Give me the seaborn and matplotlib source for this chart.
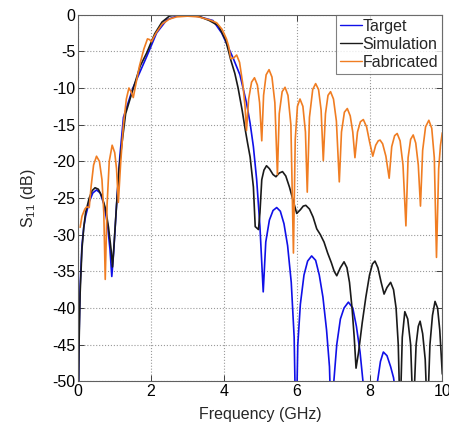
import matplotlib
matplotlib.use("Agg")
import matplotlib.pyplot as plt
import seaborn as sns
import pandas as pd

# ---- data ----
target_f = [0, 0.02, 0.05, 0.1, 0.15, 0.2, 0.3, 0.4, 0.5, 0.6, 0.7, 0.8, 0.87, 0.92, 0.97,
            1.05, 1.14, 1.24, 1.5, 1.88, 2.15, 2.43, 2.7, 3.0, 3.34, 3.7, 3.94, 4.07, 4.26,
            4.44, 4.62, 4.72, 4.81, 4.9, 4.99, 5.08, 5.15, 5.25, 5.35, 5.45, 5.55, 5.65,
            5.75, 5.85, 5.93, 5.98, 6.03, 6.1, 6.2, 6.3, 6.41, 6.52, 6.62, 6.72, 6.82, 6.9,
            6.96, 7.02, 7.1, 7.2, 7.3, 7.42, 7.54, 7.64, 7.74, 7.82, 7.88, 8.0, 8.15, 8.22,
            8.3, 8.38, 8.48, 8.58, 8.66, 8.73, 8.8]
target_db = [-55, -44, -37, -31.5, -29, -27.5, -25.5, -24.3, -23.9, -24.3, -25.8, -28.5, -32,
             -35.7, -32.5, -26, -19.4, -14, -10, -5.7, -2.5, -0.7, -0.2, 0, -0.3, -0.8, -2.5,
             -3.9, -6, -8.2, -12, -14.8, -18, -22.5, -28.9, -37.8, -31, -28, -26.7, -26.3,
             -26.8, -28.5, -31.5, -36.5, -44, -58, -45, -39.5, -35.5, -33.6, -32.9, -33.5,
             -35.5, -38.5, -43, -48, -58, -50, -45, -41.5, -40, -39.2, -40, -42.5, -46, -50,
             -58, -60, -58, -50, -47.3, -46, -46.5, -48, -49.5, -52, -60]

sim_f = [0, 0.02, 0.05, 0.1, 0.15, 0.2, 0.3, 0.38, 0.46, 0.55, 0.65, 0.75, 0.83, 0.9, 0.94,
         0.98, 1.05, 1.12, 1.2, 1.3, 1.5, 1.7, 1.88, 2.1, 2.3, 2.5, 2.7, 3.0, 3.3, 3.6, 3.85,
         3.95, 4.05, 4.19, 4.3, 4.39, 4.5, 4.58, 4.65, 4.72, 4.81, 4.86, 4.95, 4.99, 5.04,
         5.1, 5.17, 5.25, 5.35, 5.43, 5.52, 5.61, 5.7, 5.8, 5.9, 6.0, 6.1, 6.18, 6.25, 6.35,
         6.45, 6.55, 6.65, 6.75, 6.85, 6.95, 7.03, 7.1, 7.2, 7.3, 7.38, 7.45, 7.52, 7.58,
         7.63, 7.7, 7.8, 7.9, 8.0, 8.08, 8.15, 8.23, 8.32, 8.4, 8.48, 8.58, 8.66, 8.73, 8.79,
         8.84, 8.9, 8.97, 9.05, 9.13, 9.2, 9.28, 9.34, 9.39, 9.46, 9.53, 9.59, 9.66, 9.73,
         9.8, 9.87, 9.93, 10.0]
sim_db = [-55, -45, -38, -32, -29, -27, -25, -24, -23.6, -23.8, -24.8, -26.5, -29, -32, -34.4,
          -31.5, -26, -21, -17.5, -13.5, -10.2, -7, -5.2, -2.6, -1, -0.2, 0, 0, -0.2, -0.8,
          -1.5, -2.5, -3.5, -6.2, -8, -10, -13, -15.5, -17.5, -19.4, -23.5, -28.9, -29.3,
          -27, -22.5, -21.2, -20.6, -21, -21.8, -22.1, -21.6, -21.4, -22, -23.5, -25.3,
          -27.1, -26.6, -26.1, -26, -26.5, -27.6, -29.2, -30, -31, -32.5, -33.8, -35, -35.6,
          -34.5, -33.7, -34.5, -36.5, -40, -44, -48.2, -46, -42, -38.5, -35.5, -34, -33.6,
          -34.5, -36.5, -38.1, -37.2, -36.5, -37.5, -40, -45, -55, -44, -40.5, -41.5, -45,
          -55, -45, -42.5, -41.8, -43.5, -47, -55, -45, -41, -39.1, -40, -43, -49]

fab_f = [0.05, 0.1, 0.18, 0.23, 0.3, 0.35, 0.42, 0.5, 0.58, 0.65, 0.7, 0.74, 0.79, 0.85, 0.93,
         1.0, 1.05, 1.1, 1.16, 1.24, 1.32, 1.39, 1.45, 1.51, 1.58, 1.68, 1.8, 1.9, 1.96, 2.01,
         2.08, 2.15, 2.3, 2.5, 2.7, 3.0, 3.3, 3.6, 3.8, 3.95, 4.07, 4.13, 4.19, 4.27, 4.35,
         4.43, 4.52, 4.58, 4.62, 4.68, 4.76, 4.84, 4.92, 4.98, 5.04, 5.09, 5.16, 5.24, 5.32,
         5.4, 5.47, 5.52, 5.6, 5.68, 5.76, 5.84, 5.91, 5.96, 6.02, 6.09, 6.17, 6.24, 6.29,
         6.35, 6.44, 6.52, 6.6, 6.67, 6.73, 6.79, 6.86, 6.93, 7.01, 7.09, 7.17, 7.23, 7.31,
         7.39, 7.47, 7.54, 7.6, 7.67, 7.75, 7.83, 7.92, 8.0, 8.09, 8.17, 8.24, 8.29, 8.36,
         8.45, 8.54, 8.61, 8.69, 8.76, 8.84, 8.92, 9.0, 9.06, 9.13, 9.2, 9.27, 9.34, 9.4,
         9.46, 9.54, 9.63, 9.71, 9.78, 9.84, 9.9, 9.95, 10.0]
fab_db = [-29, -27.5, -26.5, -26.2, -26.3, -23.5, -20.5, -19.3, -20, -22.5, -27, -36.1, -26,
          -20, -17.8, -18.8, -21, -25.6, -20.5, -15, -11.5, -10, -10.5, -11.3, -9.5, -7, -4.7,
          -3.3, -3.4, -3.7, -3, -2.4, -1.3, -0.6, -0.3, -0.2, -0.3, -0.7, -1.1, -2, -3.3, -4.3,
          -6, -5.9, -5.5, -6.5, -9.5, -12.5, -15.8, -11.5, -9.2, -8.6, -9.6, -12, -17.2, -11,
          -8.2, -7.5, -8.5, -12, -21.8, -13.5, -10.5, -9.9, -11, -15, -32.5, -17, -12.5,
          -11.5, -12.5, -16, -24.2, -14, -10.2, -9.4, -10.2, -13, -19.9, -13.5, -11, -10.5,
          -11.5, -14.5, -22.8, -16, -13.3, -12.8, -13.8, -16, -19.5, -16, -14.6, -14.3,
          -15.3, -17.3, -19.3, -17.8, -17.2, -17.1, -17.6, -19.3, -22.3, -18, -16.5, -16.2,
          -17.2, -20.5, -28.8, -19.5, -17, -16.4, -17.5, -20.5, -26.1, -18.5, -15.3, -14.4,
          -15.5, -19.5, -33.1, -21, -17.8, -16.1]

series_names = ["Target", "Simulation", "Fabricated"]
series_colors = ["#1010e8", "#1a1a1a", "#f07d22"]

df = pd.concat([
    pd.DataFrame({"f": target_f, "s11": target_db, "series": "Target"}),
    pd.DataFrame({"f": sim_f, "s11": sim_db, "series": "Simulation"}),
    pd.DataFrame({"f": fab_f, "s11": fab_db, "series": "Fabricated"}),
], ignore_index=True)

sns.set_style("white")
plt.rcParams["font.family"] = ["Liberation Sans", "DejaVu Sans"]
plt.rcParams["axes.unicode_minus"] = False

fig = plt.figure(figsize=(4.49, 4.28), dpi=100)
ax = fig.add_axes([0.1744, 0.109, 0.8107, 0.8567])

sns.lineplot(data=df, x="f", y="s11", hue="series", hue_order=series_names,
             palette=dict(zip(series_names, series_colors)), sort=False,
             estimator=None, linewidth=1.2, ax=ax)

ax.set_xlim(0, 10)
ax.set_ylim(-50, 0)
ax.set_xticks([0, 2, 4, 6, 8, 10])
ax.set_yticks(list(range(-50, 1, 5)))
ax.grid(True, linestyle=":", color="#9a9a9a", linewidth=0.8)
for sp in ax.spines.values():
    sp.set_color("#606060")
    sp.set_linewidth(0.8)
ax.tick_params(direction="in", length=4, width=0.7, colors="#404040",
               labelcolor="black", labelsize=11.5, top=True, right=True,
               bottom=True, left=True, pad=2)
ax.set_xlabel("Frequency (GHz)", fontsize=11.5, labelpad=6)
ax.set_ylabel("S$_{\\mathregular{11}}$ (dB)", fontsize=11.5, labelpad=10)

leg = ax.legend(loc="upper right", frameon=True, fancybox=False, fontsize=11.5,
                borderaxespad=0, handlelength=1.4, handletextpad=0.05,
                borderpad=0.25, labelspacing=0.2)
leg.get_frame().set_edgecolor("#606060")
leg.get_frame().set_linewidth(0.8)
for line in leg.get_lines():
    line.set_linewidth(1.0)

fig.savefig("out.png", dpi=100)
